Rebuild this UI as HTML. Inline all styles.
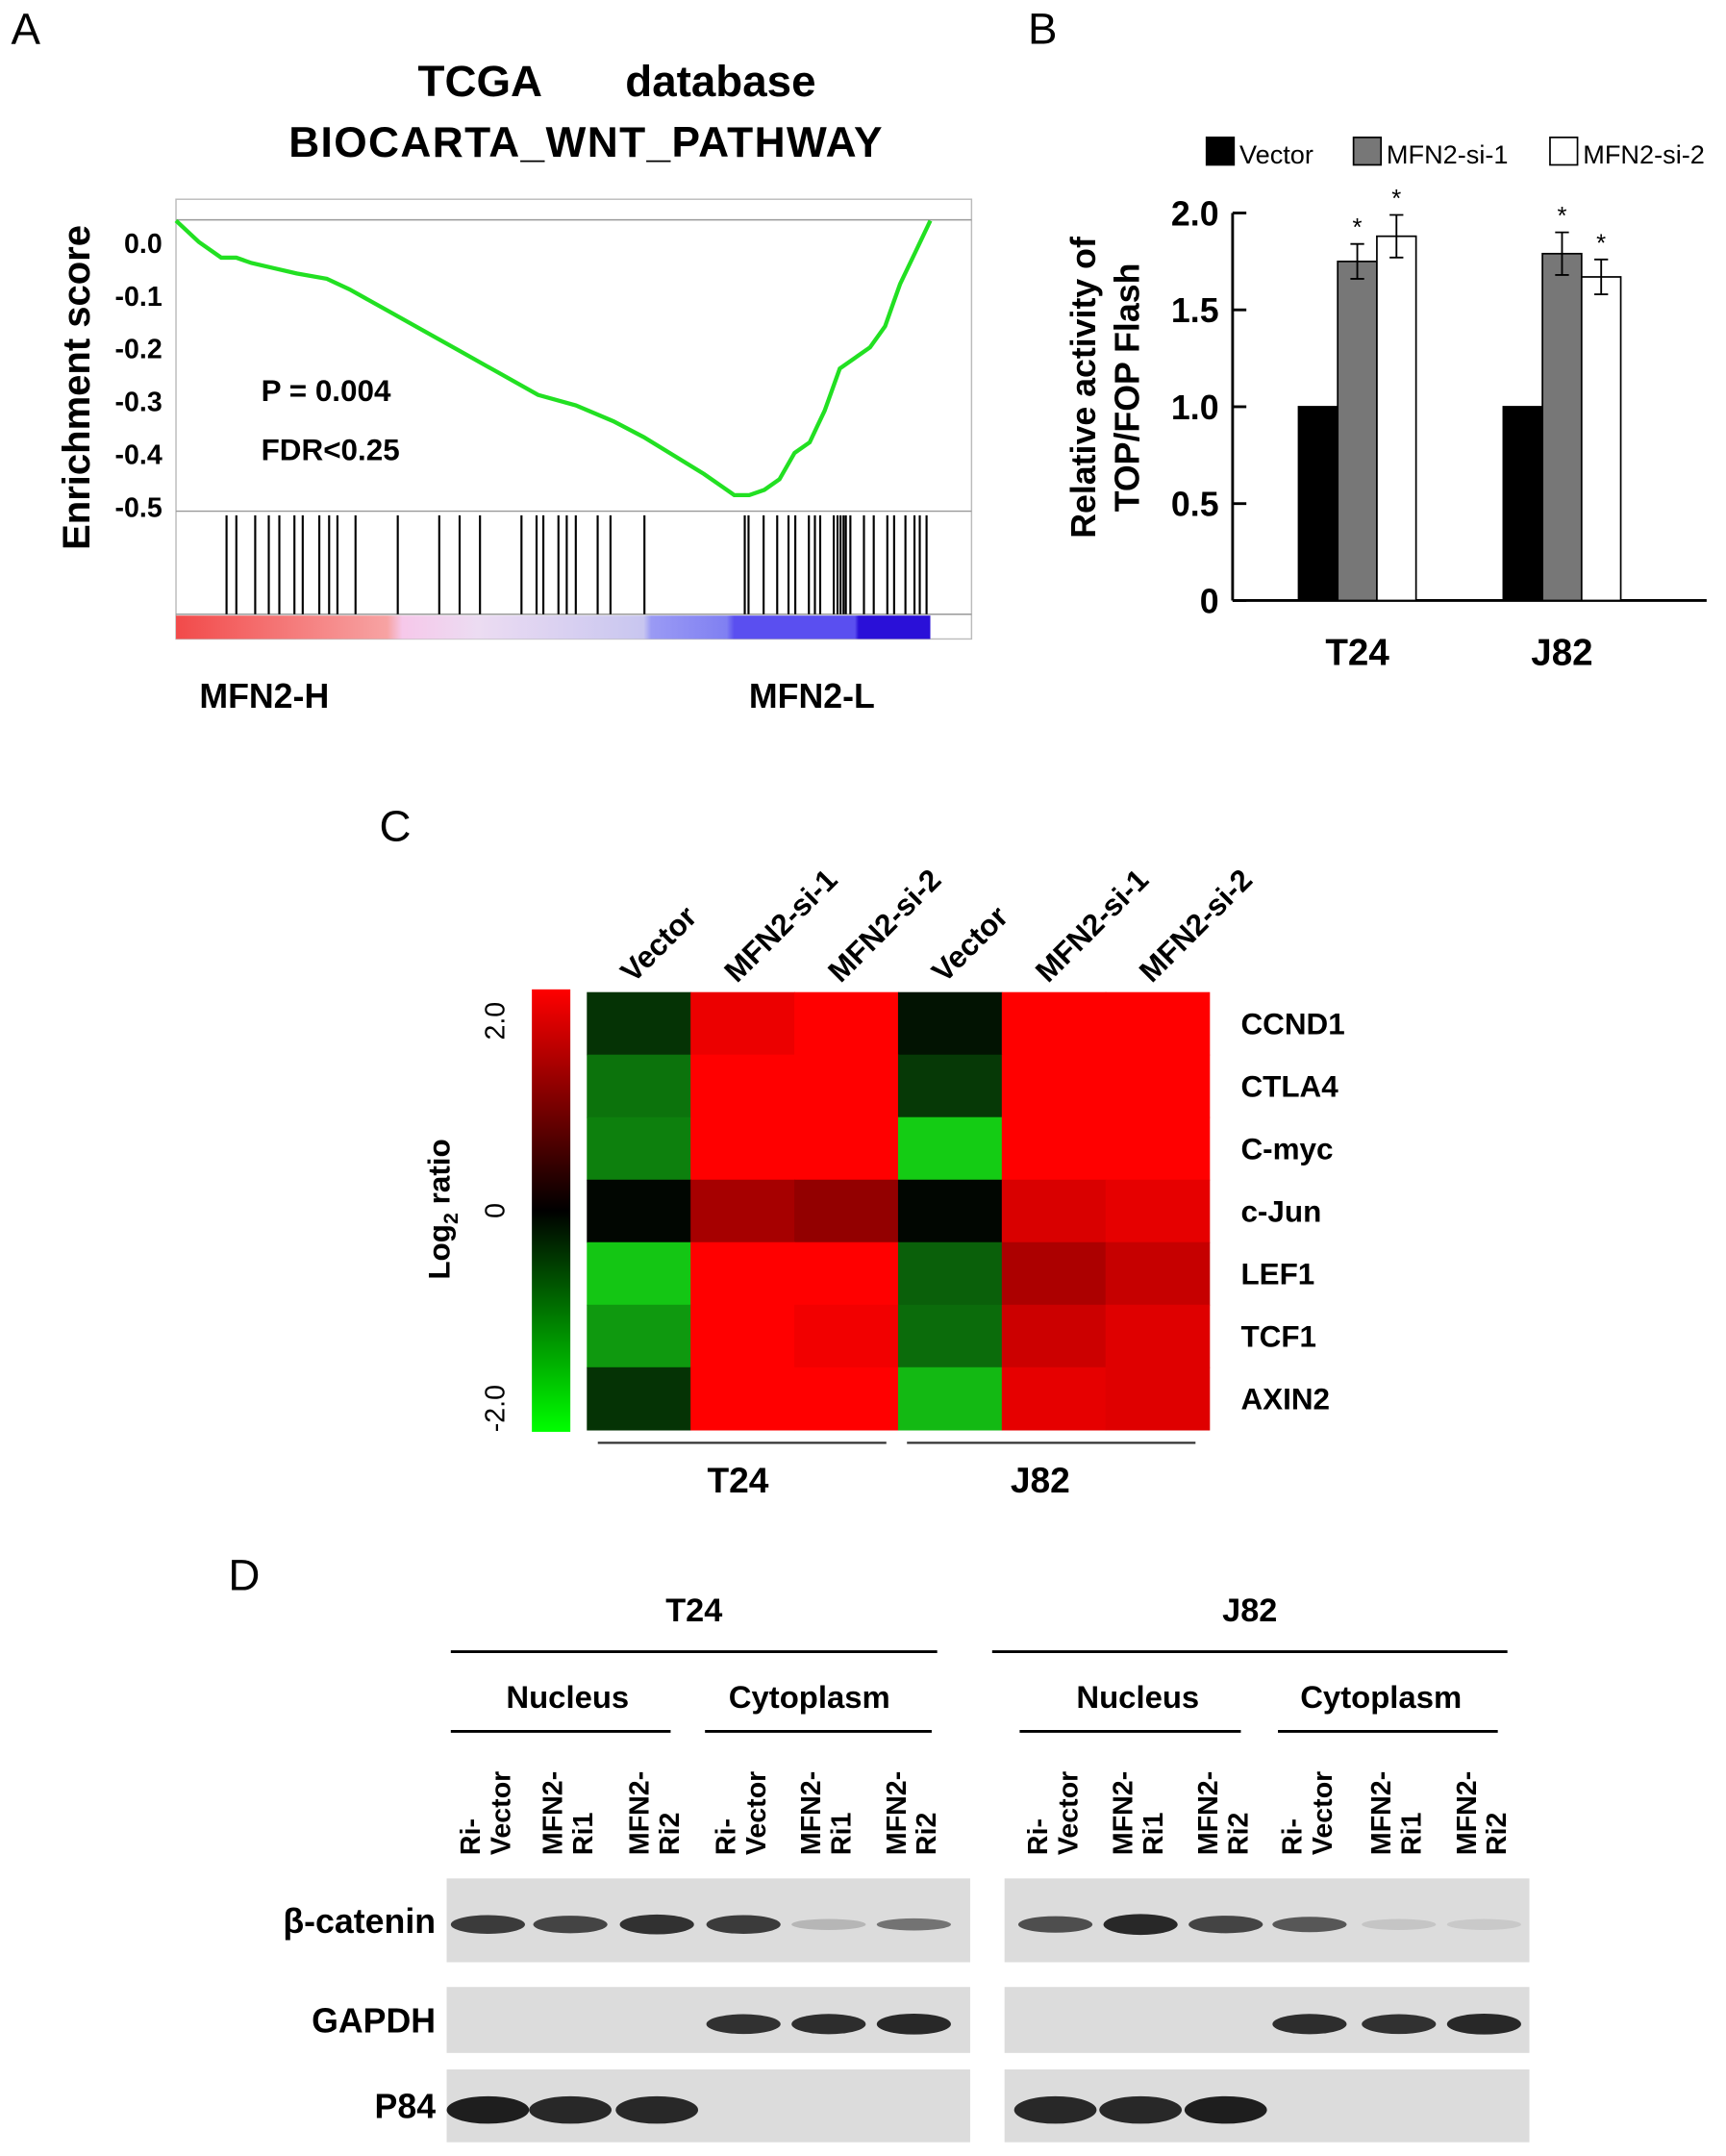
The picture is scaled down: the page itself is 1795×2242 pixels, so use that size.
<!DOCTYPE html>
<html><head><meta charset="utf-8"><style>
html,body{margin:0;padding:0;background:#fff}
svg{display:block;font-family:"Liberation Sans",Arial,sans-serif}
</style></head><body>
<svg id="fig" width="1795" height="2242" viewBox="0 0 1256 1569" xmlns="http://www.w3.org/2000/svg">
<defs>
<linearGradient id="gsbar" x1="0" x2="1" y1="0" y2="0">
<stop offset="0" stop-color="#f24a4a"/><stop offset="0.28" stop-color="#f7a3a3"/><stop offset="0.3" stop-color="#f6c8ea"/><stop offset="0.4" stop-color="#ecdcf2"/><stop offset="0.62" stop-color="#c8c6f0"/><stop offset="0.63" stop-color="#9a9af4"/><stop offset="0.73" stop-color="#8080f2"/><stop offset="0.74" stop-color="#5a4ff0"/><stop offset="0.9" stop-color="#5a4ff0"/><stop offset="0.905" stop-color="#2a10d8"/><stop offset="1" stop-color="#2a10d8"/></linearGradient>
<linearGradient id="cbar" x1="0" x2="0" y1="0" y2="1">
<stop offset="0" stop-color="#ff0000"/><stop offset="0.5" stop-color="#000"/><stop offset="1" stop-color="#00ff00"/></linearGradient>
</defs>
<g id="panelA"></g>
<g id="panelB"></g>
<g id="panelC"></g>
<g id="panelD"></g>
</svg>
<script>
// ---- Panel A data ----
const gseaRank = [0,0.03,0.06,0.08,0.1,0.13,0.16,0.2,0.23,0.28,0.33,0.38,0.43,0.48,0.53,0.58,0.62,0.7,0.72,0.74,0.76,0.78,0.8,0.82,0.84,0.85,0.86,0.88,0.9,0.92,0.94,0.95,0.96,0.98,1.0];
const gseaES = [0.04,0.0,-0.03,-0.03,-0.04,-0.05,-0.06,-0.07,-0.09,-0.13,-0.17,-0.21,-0.25,-0.29,-0.31,-0.34,-0.37,-0.44,-0.46,-0.48,-0.48,-0.47,-0.45,-0.4,-0.38,-0.35,-0.32,-0.24,-0.22,-0.2,-0.16,-0.12,-0.08,-0.02,0.04];
const hitRanks = [0.067,0.08,0.105,0.123,0.137,0.157,0.168,0.19,0.203,0.214,0.238,0.294,0.349,0.376,0.403,0.458,0.478,0.487,0.507,0.518,0.53,0.559,0.576,0.621,0.754,0.759,0.779,0.797,0.812,0.821,0.839,0.847,0.854,0.872,0.877,0.881,0.885,0.888,0.894,0.912,0.925,0.943,0.952,0.967,0.979,0.986,0.995];
const esTicks = ["0.0","-0.1","-0.2","-0.3","-0.4","-0.5"];
// ---- Panel B data ----
const barGroups = ["T24","J82"];
const barSeries = ["Vector","MFN2-si-1","MFN2-si-2"];
const vectorVals = [1.0,1.0];
const si1Vals = [1.75,1.79];
const si2Vals = [1.88,1.67];
const si1Err = [0.09,0.11];
const si2Err = [0.11,0.09];
const bTicks = ["0","0.5","1.0","1.5","2.0"];
// ---- Panel C data ----
const hmCols = ["Vector","MFN2-si-1","MFN2-si-2","Vector","MFN2-si-1","MFN2-si-2"];
const hmRows = ["CCND1","CTLA4","C-myc","c-Jun","LEF1","TCF1","AXIN2"];
const rowCCND1 = [-0.4,1.85,2,-0.15,2,2];
const rowCTLA4 = [-0.9,2,2,-0.45,2,2];
const rowCmyc = [-1.0,2,2,-1.6,2,2];
const rowCJun = [-0.05,1.3,1.15,-0.05,1.7,1.8];
const rowLEF1 = [-1.55,2,2,-0.75,1.35,1.55];
const rowTCF1 = [-1.2,2,1.9,-0.85,1.6,1.75];
const rowAXIN2 = [-0.4,2,2,-1.45,1.8,1.75];
// ---- Panel D data ----
const laneLabels = [["Ri-","Vector"],["MFN2-","Ri1"],["MFN2-","Ri2"],["Ri-","Vector"],["MFN2-","Ri1"],["MFN2-","Ri2"]];
const catT24 = [0.85,0.8,0.9,0.85,0.2,0.55];
const catJ82 = [0.75,0.95,0.8,0.7,0.12,0.1];
const gapdhT24 = [0,0,0,0.9,0.92,0.95];
const gapdhJ82 = [0,0,0,0.92,0.9,0.95];
const p84T24 = [1,0.95,0.95,0,0,0];
const p84J82 = [0.95,0.95,1,0,0,0];

const NS='http://www.w3.org/2000/svg';
function mk(parent,tag,attrs,text){const e=document.createElementNS(NS,tag);for(const k in attrs)e.setAttribute(k,attrs[k]);if(text!==undefined)e.textContent=text;parent.appendChild(e);return e;}

// ===== Panel A =====
const A=document.getElementById('panelA');
let t;
t=mk(A,'text',{x:8,y:32,'font-size':32});t.textContent='A';


t=mk(A,'text',{x:304,y:70,'font-size':32,'font-weight':'bold'},'TCGA');


t=mk(A,'text',{x:455,y:70,'font-size':32,'font-weight':'bold'},'database');


t=mk(A,'text',{x:426,y:114,'font-size':31,'font-weight':'bold','text-anchor':'middle','textLength':432},'BIOCARTA_WNT_PATHWAY');


const ax0=128,ax1=707,rx1=677;
const esY=v=>176-v*384;
const rkX=r=>ax0+r*(rx1-ax0);
let box=mk(A,'rect',{x:ax0,y:145,width:ax1-ax0,height:320,fill:'none',stroke:'#bbb','stroke-width':1});


let l=mk(A,'line',{x1:ax0,x2:ax1,y1:160,y2:160,stroke:'#999','stroke-width':1});


l=mk(A,'line',{x1:ax0,x2:ax1,y1:372,y2:372,stroke:'#999','stroke-width':1});


l=mk(A,'line',{x1:ax0,x2:ax1,y1:447,y2:447,stroke:'#999','stroke-width':1});


esTicks.forEach((s,i)=>{const v=parseFloat(s);const tt=mk(A,'text',{x:118,y:esY(v)+8,'font-size':20,'font-weight':'bold','text-anchor':'end'},s);

});
t=mk(A,'text',{transform:'translate(65,282) rotate(-90)','font-size':28,'font-weight':'bold','text-anchor':'middle'},'Enrichment score');


let pts=gseaRank.map((r,i)=>rkX(r).toFixed(1)+','+esY(gseaES[i]).toFixed(1)).join(' ');
let pl=mk(A,'polyline',{points:pts,fill:'none',stroke:'#22e022','stroke-width':3});


hitRanks.forEach(r=>{const h=mk(A,'line',{x1:rkX(r),x2:rkX(r),y1:375,y2:447,stroke:'#000','stroke-width':1.5});

});
let gb=mk(A,'rect',{x:ax0,y:448,width:rx1-ax0,height:17,fill:'url(#gsbar)'});


t=mk(A,'text',{x:190,y:292,'font-size':22,'font-weight':'bold'},'P = 0.004');


t=mk(A,'text',{x:190,y:335,'font-size':22,'font-weight':'bold'},'FDR<0.25');


t=mk(A,'text',{x:145,y:515,'font-size':25,'font-weight':'bold'},'MFN2-H');


t=mk(A,'text',{x:545,y:515,'font-size':25,'font-weight':'bold'},'MFN2-L');



// ===== Panel B =====
const B=document.getElementById('panelB');
t=mk(B,'text',{x:748,y:32,'font-size':32},'B');


const by=v=>437-v*141;
const gx=[945,1094];const bw=28.5;
const legFill=['#000','#777','#fff'];
[[878,'Vector'],[985,'MFN2-si-1'],[1128,'MFN2-si-2']].forEach((d,i)=>{
 const r=mk(B,'rect',{x:d[0],y:100,width:20,height:20,fill:legFill[i],stroke:'#000','stroke-width':1.2});
 
 
 const tx=mk(B,'text',{x:d[0]+24,y:119,'font-size':19},barSeries[i]);
 
 
});
let yl=mk(B,'line',{x1:897,x2:897,y1:155,y2:437,stroke:'#000','stroke-width':2});


let xl=mk(B,'line',{x1:897,x2:1242,y1:437,y2:437,stroke:'#000','stroke-width':2});


bTicks.forEach(s=>{const v=parseFloat(s);
 const tk=mk(B,'line',{x1:897,x2:907,y1:by(v),y2:by(v),stroke:'#000','stroke-width':2});
 
 
 const tl=mk(B,'text',{x:887,y:by(v)+9,'font-size':25,'font-weight':'bold','text-anchor':'end'},s);
 
 });
t=mk(B,'text',{transform:'translate(797,282) rotate(-90)','font-size':25,'font-weight':'bold','text-anchor':'middle'},'Relative activity of');


t=mk(B,'text',{transform:'translate(829,282) rotate(-90)','font-size':25,'font-weight':'bold','text-anchor':'middle'},'TOP/FOP Flash');


const allVals=[vectorVals,si1Vals,si2Vals],allErr=[null,si1Err,si2Err];
barGroups.forEach((g,gi)=>{
 allVals.forEach((arr,si)=>{
  const x=gx[gi]+si*bw,v=arr[gi];
  const r=mk(B,'rect',{x:x,y:by(v),width:bw,height:437-by(v),fill:legFill[si],stroke:'#000','stroke-width':1.2});
  
  
  if(allErr[si]){const e=allErr[si][gi],cx=x+bw/2;
   const el=mk(B,'path',{d:`M${cx-5},${by(v+e)}H${cx+5}M${cx},${by(v+e)}V${by(v-e)}M${cx-5},${by(v-e)}H${cx+5}`,stroke:'#000','stroke-width':1.3,fill:'none'});
   
   
   const st=mk(B,'text',{x:cx,y:by(v+e)-6,'font-size':18,'text-anchor':'middle'},'*');
   
   }
 });
 const gl=mk(B,'text',{x:gx[gi]+bw*1.5,y:484,'font-size':27,'font-weight':'bold','text-anchor':'middle'},g);
 
 
});

// ===== Panel C =====
const C=document.getElementById('panelC');
t=mk(C,'text',{x:276,y:612,'font-size':32},'C');


const hx0=427,hy0=722,cw=75.5,rh=45.5;
const rowsData=[rowCCND1,rowCTLA4,rowCmyc,rowCJun,rowLEF1,rowTCF1,rowAXIN2];
function col(v){v=Math.max(-2,Math.min(2,v));if(v>=0)return `rgb(${Math.round(v/2*255)},0,0)`;const g=Math.round(-v/2*255);return `rgb(${Math.round(g*0.1)},${g},${Math.round(g*0.1)})`;}
rowsData.forEach((row,ri)=>{row.forEach((v,ci)=>{
 const c=mk(C,'rect',{x:hx0+ci*cw,y:hy0+ri*rh,width:cw+0.5,height:rh+0.5,fill:col(v)});
 
 });
 const rl=mk(C,'text',{x:903,y:hy0+ri*rh+rh/2+8,'font-size':22,'font-weight':'bold'},hmRows[ri]);
 
 });
hmCols.forEach((c,ci)=>{const x=hx0+ci*cw+cw/2;
 const cl=mk(C,'text',{transform:`translate(${x-4},${hy0-6}) rotate(-45)`,'font-size':22,'font-weight':'bold'},c);
 
 });
let cb=mk(C,'rect',{x:387,y:720,width:28,height:322,fill:'url(#cbar)'});


[['2.0',743],['0',881],['-2.0',1025]].forEach(d=>{const s=mk(C,'text',{transform:`translate(367,${d[1]}) rotate(-90)`,'font-size':20,'text-anchor':'middle'},d[0]);
 
 });
t=mk(C,'text',{transform:'translate(327,880) rotate(-90)','font-size':22,'font-weight':'bold','text-anchor':'middle'});
t.innerHTML='Log<tspan font-size="15" dy="6">2</tspan><tspan dy="-6"> ratio</tspan>';


[[435,645,'T24',537],[660,870,'J82',757]].forEach(d=>{
 const ln=mk(C,'line',{x1:d[0],x2:d[1],y1:1050,y2:1050,stroke:'#333','stroke-width':1.5});
 
 
 const gl=mk(C,'text',{x:d[3],y:1086,'font-size':26,'font-weight':'bold','text-anchor':'middle'},d[2]);
 
 });

// ===== Panel D =====
const D=document.getElementById('panelD');
t=mk(D,'text',{x:166,y:1157,'font-size':32},'D');


const sides=[{x0:325,x1:706,lanes:[355,415,478,541,603,665],name:'T24',cat:catT24,gap:gapdhT24,p84:p84T24,hd:[328,682],nuc:[328,488,413],cyt:[513,678,589]},
 {x0:731,x1:1113,lanes:[768,830,892,953,1018,1080],name:'J82',cat:catJ82,gap:gapdhJ82,p84:p84J82,hd:[722,1097],nuc:[742,903,828],cyt:[930,1090,1005]}];
const rowsD=[['β-catenin',1367,61,'cat'],['GAPDH',1446,48,'gap'],['P84',1506,53,'p84']];
sides.forEach(s=>{
 let tx=mk(D,'text',{x:(s.hd[0]+s.hd[1])/2,y:1180,'font-size':24,'font-weight':'bold','text-anchor':'middle'},s.name);
 
 
 let hl=mk(D,'line',{x1:s.hd[0],x2:s.hd[1],y1:1202,y2:1202,stroke:'#000','stroke-width':2});
 
 
 [[s.nuc,'Nucleus'],[s.cyt,'Cytoplasm']].forEach(f=>{
  const ft=mk(D,'text',{x:f[0][2],y:1243,'font-size':23,'font-weight':'bold','text-anchor':'middle'},f[1]);
  
  
  const fl=mk(D,'line',{x1:f[0][0],x2:f[0][1],y1:1260,y2:1260,stroke:'#000','stroke-width':2});
  
  });
 s.lanes.forEach((lx,i)=>{laneLabels[i].forEach((w,j)=>{
  const ll=mk(D,'text',{transform:`translate(${lx-6+j*22},1350) rotate(-90)`,'font-size':20,'font-weight':'bold'},w);
  
  });});
 rowsD.forEach(r=>{
  const bg=mk(D,'rect',{x:s.x0,y:r[1],width:s.x1-s.x0,height:r[2],fill:'#dcdcdc'});
  
  
  s[r[3]].forEach((v,i)=>{if(v<=0)return;
   const g=Math.round(220-v*190);
   const bd=mk(D,'ellipse',{cx:s.lanes[i],cy:r[1]+r[2]/2+3,rx:r[3]==='p84'?30:27,ry:r[3]==='p84'?10:8*Math.max(0.5,v),fill:`rgb(${g},${g},${g})`});
   
   });
 });
});
rowsD.forEach(r=>{const rl=mk(D,'text',{x:317,y:r[1]+r[2]/2+9,'font-size':25,'font-weight':'bold','text-anchor':'end'},r[0]);
 
 });
</script>
</body></html>
